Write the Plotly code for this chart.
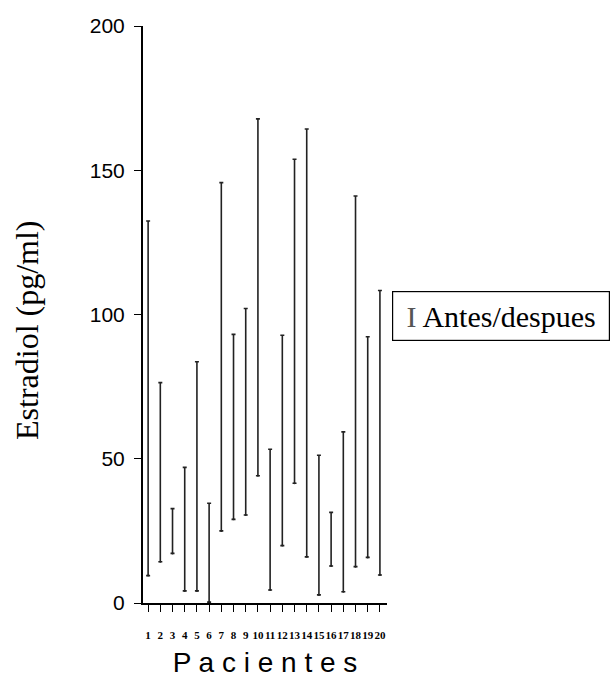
import plotly.graph_objects as go

pacientes = list(range(1, 21))
etiquetas = [str(p) for p in pacientes]
valor_bajo = [9.5, 14.3, 17.2, 4.2, 4.2, 0.3, 25.0, 29.0, 30.5, 44.1,
              4.5, 19.9, 41.5, 16.0, 2.8, 12.8, 3.9, 12.6, 15.8, 9.7]
valor_alto = [132.4, 76.4, 32.7, 47.0, 83.6, 34.6, 145.7, 93.1, 102.1, 167.8,
              53.3, 92.8, 153.8, 164.3, 51.2, 31.4, 59.3, 141.1, 92.3, 108.3]

diferencia = [a - b for a, b in zip(valor_alto, valor_bajo)]

fig = go.Figure()
fig.add_trace(go.Scatter(
    x=pacientes, y=valor_bajo, mode="markers",
    marker=dict(size=2, color="#222"),
    error_y=dict(type="data", symmetric=False, array=diferencia,
                 arrayminus=[0] * len(diferencia),
                 color="#222", thickness=1.6, width=2),
    showlegend=False, hoverinfo="skip",
))

fig.add_annotation(
    xref="paper", yref="paper", x=1.0205, y=0.497,
    xanchor="left", yanchor="middle",
    text="<span style='color:#555'>I</span> Antes/despues",
    showarrow=False,
    font=dict(family="Liberation Serif", size=30, color="black"),
    bordercolor="black", borderwidth=1.2, borderpad=4,
    width=208, height=40, align="center",
)

# y-axis title placed as rotated annotation
fig.add_annotation(
    xref="paper", yref="paper", x=(27 - 143) / 244, y=(603 - 330) / 577,
    xanchor="center", yanchor="middle", textangle=-90,
    text="Estradiol (pg/ml)", showarrow=False,
    font=dict(family="Liberation Serif", size=32, color="black"),
)

fig.update_layout(
    width=613, height=684,
    margin=dict(l=143, r=226, t=26, b=81),
    paper_bgcolor="white", plot_bgcolor="white",
    xaxis=dict(
        range=[0.58, 20.58], tickmode="array", tickvals=pacientes, ticktext=etiquetas,
        showgrid=False, zeroline=False, showline=True, linecolor="black", linewidth=2,
        ticks="outside", ticklen=7, tickwidth=1.2, tickcolor="black", tickangle=0,
        tickfont=dict(family="Liberation Serif", size=11, color="black", weight="bold"),
        ticklabelstandoff=14,
        title=dict(text="P a c i e n t e s", standoff=12,
                   font=dict(family="Liberation Sans", size=28, color="black")),
    ),
    yaxis=dict(
        range=[0, 200], tickvals=[0, 50, 100, 150, 200],
        showgrid=False, zeroline=False, showline=True, linecolor="black", linewidth=2,
        ticks="outside", ticklen=7, tickwidth=1.2, tickcolor="black",
        tickfont=dict(family="Liberation Sans", size=21, color="black"),
        ticklabelstandoff=5,
    ),
)

fig.write_html("out.html")
